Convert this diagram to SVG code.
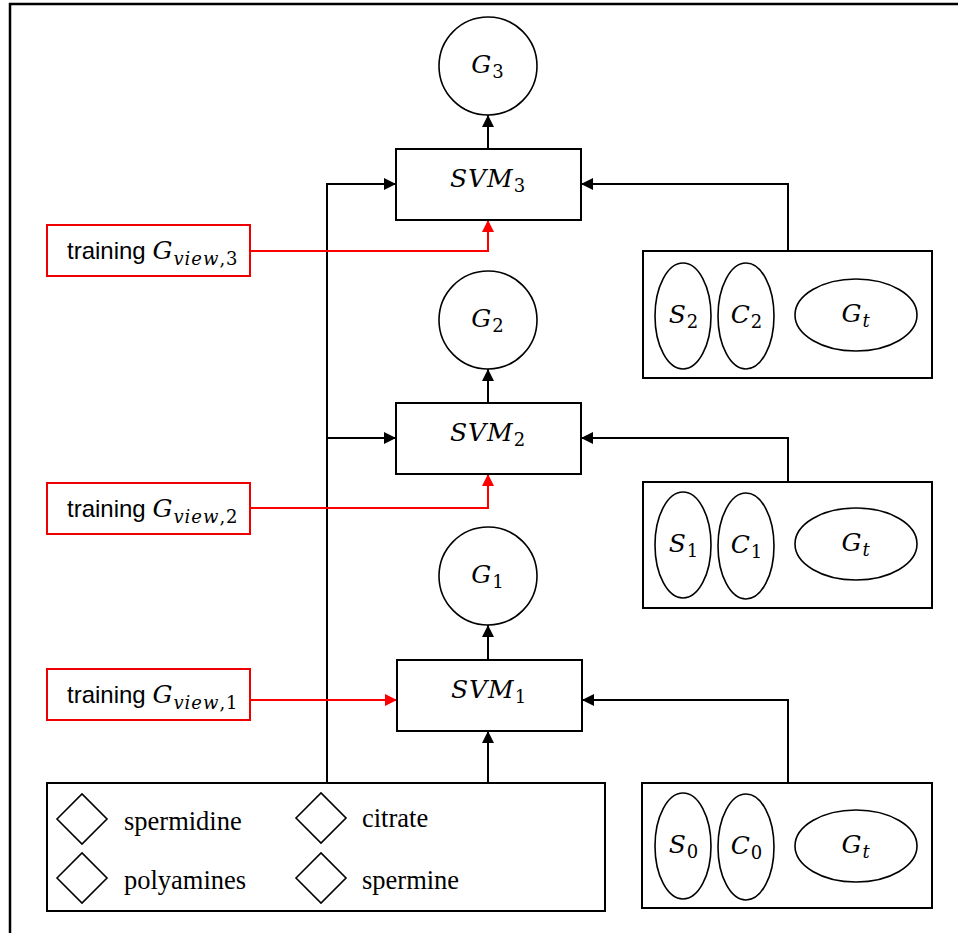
<svg xmlns="http://www.w3.org/2000/svg" width="958" height="933" viewBox="0 0 958 933">
  <defs>
    <style>
      .frame { fill: none; stroke: #000; stroke-width: 2.5; }
      .box { fill: #fff; stroke: #000; stroke-width: 2; }
      .tbox { fill: #fff; stroke: #e00; stroke-width: 2; }
      .shape { fill: #fff; stroke: #000; stroke-width: 1.6; }
      .link { fill: none; stroke: #000; stroke-width: 2; }
      .rlink { fill: none; stroke: #f00; stroke-width: 2; }
      .math { font-family: "DejaVu Serif", "Liberation Serif", serif; font-style: italic; font-size: 25px; fill: #000; letter-spacing: 1px; }
      .sub { font-style: normal; font-size: 18px; }
      .isub { font-style: italic; font-size: 18px; }
      .lbl { font-family: "Liberation Sans", Arial, sans-serif; font-size: 24px; fill: #000; }
      .leg { font-family: "Liberation Serif", "Times New Roman", serif; font-size: 26.5px; fill: #000; }
    </style>
    <marker id="arrowBlack" viewBox="0 0 12 12" refX="12" refY="6" markerWidth="12" markerHeight="12" markerUnits="userSpaceOnUse" orient="auto">
      <path d="M0,0 L12,6 L0,12 Z" fill="#000"/>
    </marker>
    <marker id="arrowRed" viewBox="0 0 12 12" refX="12" refY="6" markerWidth="12" markerHeight="12" markerUnits="userSpaceOnUse" orient="auto">
      <path d="M0,0 L12,6 L0,12 Z" fill="#f00"/>
    </marker>
  </defs>

  <rect width="958" height="933" fill="#fff"/>
  <!-- outer frame, open at the right and bottom edges -->
  <rect class="frame" x="10" y="4" width="960" height="940"/>

  <!-- connectors -->
  <g id="connectors">
    <!-- SVM outputs to G circles -->
    <line class="link" x1="488" y1="149" x2="488" y2="115" marker-end="url(#arrowBlack)"/>
    <line class="link" x1="488" y1="403" x2="488" y2="369" marker-end="url(#arrowBlack)"/>
    <line class="link" x1="488" y1="660" x2="488" y2="625" marker-end="url(#arrowBlack)"/>
    <!-- feature legend into SVMs -->
    <line class="link" x1="488" y1="783" x2="488" y2="731" marker-end="url(#arrowBlack)"/>
    <polyline class="link" points="327,783 327,184 396,184" marker-end="url(#arrowBlack)"/>
    <line class="link" x1="327" y1="438" x2="396" y2="438" marker-end="url(#arrowBlack)"/>
    <!-- S/C/Gt groups into SVMs -->
    <polyline class="link" points="788,251 788,184 581,184" marker-end="url(#arrowBlack)"/>
    <polyline class="link" points="788,482 788,438 581,438" marker-end="url(#arrowBlack)"/>
    <polyline class="link" points="788,783 788,700 582,700" marker-end="url(#arrowBlack)"/>
    <!-- training views -->
    <polyline class="rlink" points="250,251 488,251 488,220" marker-end="url(#arrowRed)"/>
    <polyline class="rlink" points="250,508 488,508 488,474" marker-end="url(#arrowRed)"/>
    <line class="rlink" x1="250" y1="700" x2="397" y2="700" marker-end="url(#arrowRed)"/>
  </g>

  <!-- outputs -->
  <g id="G3">
    <circle class="shape" cx="488" cy="66" r="49"/>
    <text class="math" x="488" y="73" text-anchor="middle">G<tspan class="sub" dy="5">3</tspan></text>
  </g>
  <g id="G2">
    <circle class="shape" cx="488" cy="320" r="49"/>
    <text class="math" x="488" y="327" text-anchor="middle">G<tspan class="sub" dy="5">2</tspan></text>
  </g>
  <g id="G1">
    <circle class="shape" cx="488" cy="576" r="49"/>
    <text class="math" x="488" y="583" text-anchor="middle">G<tspan class="sub" dy="5">1</tspan></text>
  </g>

  <!-- classifiers -->
  <g id="SVM3">
    <rect class="box" x="396" y="149" width="185" height="71"/>
    <text class="math" x="488" y="187" text-anchor="middle">SVM<tspan class="sub" dy="5">3</tspan></text>
  </g>
  <g id="SVM2">
    <rect class="box" x="396" y="403" width="185" height="71"/>
    <text class="math" x="488" y="441" text-anchor="middle">SVM<tspan class="sub" dy="5">2</tspan></text>
  </g>
  <g id="SVM1">
    <rect class="box" x="397" y="660" width="185" height="71"/>
    <text class="math" x="489" y="698" text-anchor="middle">SVM<tspan class="sub" dy="5">1</tspan></text>
  </g>

  <!-- training views -->
  <g id="training3">
    <rect class="tbox" x="47" y="225" width="203" height="51"/>
    <text x="67" y="259"><tspan class="lbl">training </tspan><tspan class="math" letter-spacing="0">G</tspan><tspan class="math isub" dy="6">view</tspan><tspan class="math sub">,3</tspan></text>
  </g>
  <g id="training2">
    <rect class="tbox" x="47" y="483" width="203" height="51"/>
    <text x="67" y="517"><tspan class="lbl">training </tspan><tspan class="math" letter-spacing="0">G</tspan><tspan class="math isub" dy="6">view</tspan><tspan class="math sub">,2</tspan></text>
  </g>
  <g id="training1">
    <rect class="tbox" x="47" y="669" width="203" height="51"/>
    <text x="67" y="703"><tspan class="lbl">training </tspan><tspan class="math" letter-spacing="0">G</tspan><tspan class="math isub" dy="6">view</tspan><tspan class="math sub">,1</tspan></text>
  </g>

  <!-- S / C / Gt groups -->
  <g id="group2">
    <rect class="box" x="643" y="251" width="289" height="127"/>
    <ellipse class="shape" cx="683" cy="316" rx="28" ry="53"/>
    <ellipse class="shape" cx="746" cy="316" rx="28" ry="53"/>
    <ellipse class="shape" cx="856" cy="315" rx="61" ry="36"/>
    <text class="math" x="684" y="323" text-anchor="middle">S<tspan class="sub" dy="5">2</tspan></text>
    <text class="math" x="747" y="323" text-anchor="middle">C<tspan class="sub" dy="5">2</tspan></text>
    <text class="math" x="856" y="322" text-anchor="middle">G<tspan class="isub" dy="5">t</tspan></text>
  </g>
  <g id="group1">
    <rect class="box" x="643" y="482" width="289" height="126"/>
    <ellipse class="shape" cx="683" cy="545" rx="28" ry="53"/>
    <ellipse class="shape" cx="746" cy="546" rx="28" ry="53"/>
    <ellipse class="shape" cx="856" cy="544" rx="61" ry="36"/>
    <text class="math" x="684" y="552" text-anchor="middle">S<tspan class="sub" dy="5">1</tspan></text>
    <text class="math" x="747" y="553" text-anchor="middle">C<tspan class="sub" dy="5">1</tspan></text>
    <text class="math" x="856" y="551" text-anchor="middle">G<tspan class="isub" dy="5">t</tspan></text>
  </g>
  <g id="group0">
    <rect class="box" x="642" y="783" width="290" height="125"/>
    <ellipse class="shape" cx="683" cy="846" rx="28" ry="53"/>
    <ellipse class="shape" cx="746" cy="847" rx="28" ry="53"/>
    <ellipse class="shape" cx="856" cy="846" rx="61" ry="36"/>
    <text class="math" x="684" y="853" text-anchor="middle">S<tspan class="sub" dy="5">0</tspan></text>
    <text class="math" x="747" y="854" text-anchor="middle">C<tspan class="sub" dy="5">0</tspan></text>
    <text class="math" x="856" y="853" text-anchor="middle">G<tspan class="isub" dy="5">t</tspan></text>
  </g>

  <!-- feature legend -->
  <g id="features">
    <rect class="box" x="47" y="783" width="558" height="128"/>
    <path class="shape" d="M57,819 L82,794 L107,819 L82,844 Z"/>
    <path class="shape" d="M57,878 L82,853 L107,878 L82,903 Z"/>
    <path class="shape" d="M296,818 L321,793 L346,818 L321,843 Z"/>
    <path class="shape" d="M296,878 L321,853 L346,878 L321,903 Z"/>
    <text class="leg" x="124" y="830">spermidine</text>
    <text class="leg" x="124" y="889">polyamines</text>
    <text class="leg" x="362" y="827">citrate</text>
    <text class="leg" x="362" y="889">spermine</text>
  </g>
</svg>
